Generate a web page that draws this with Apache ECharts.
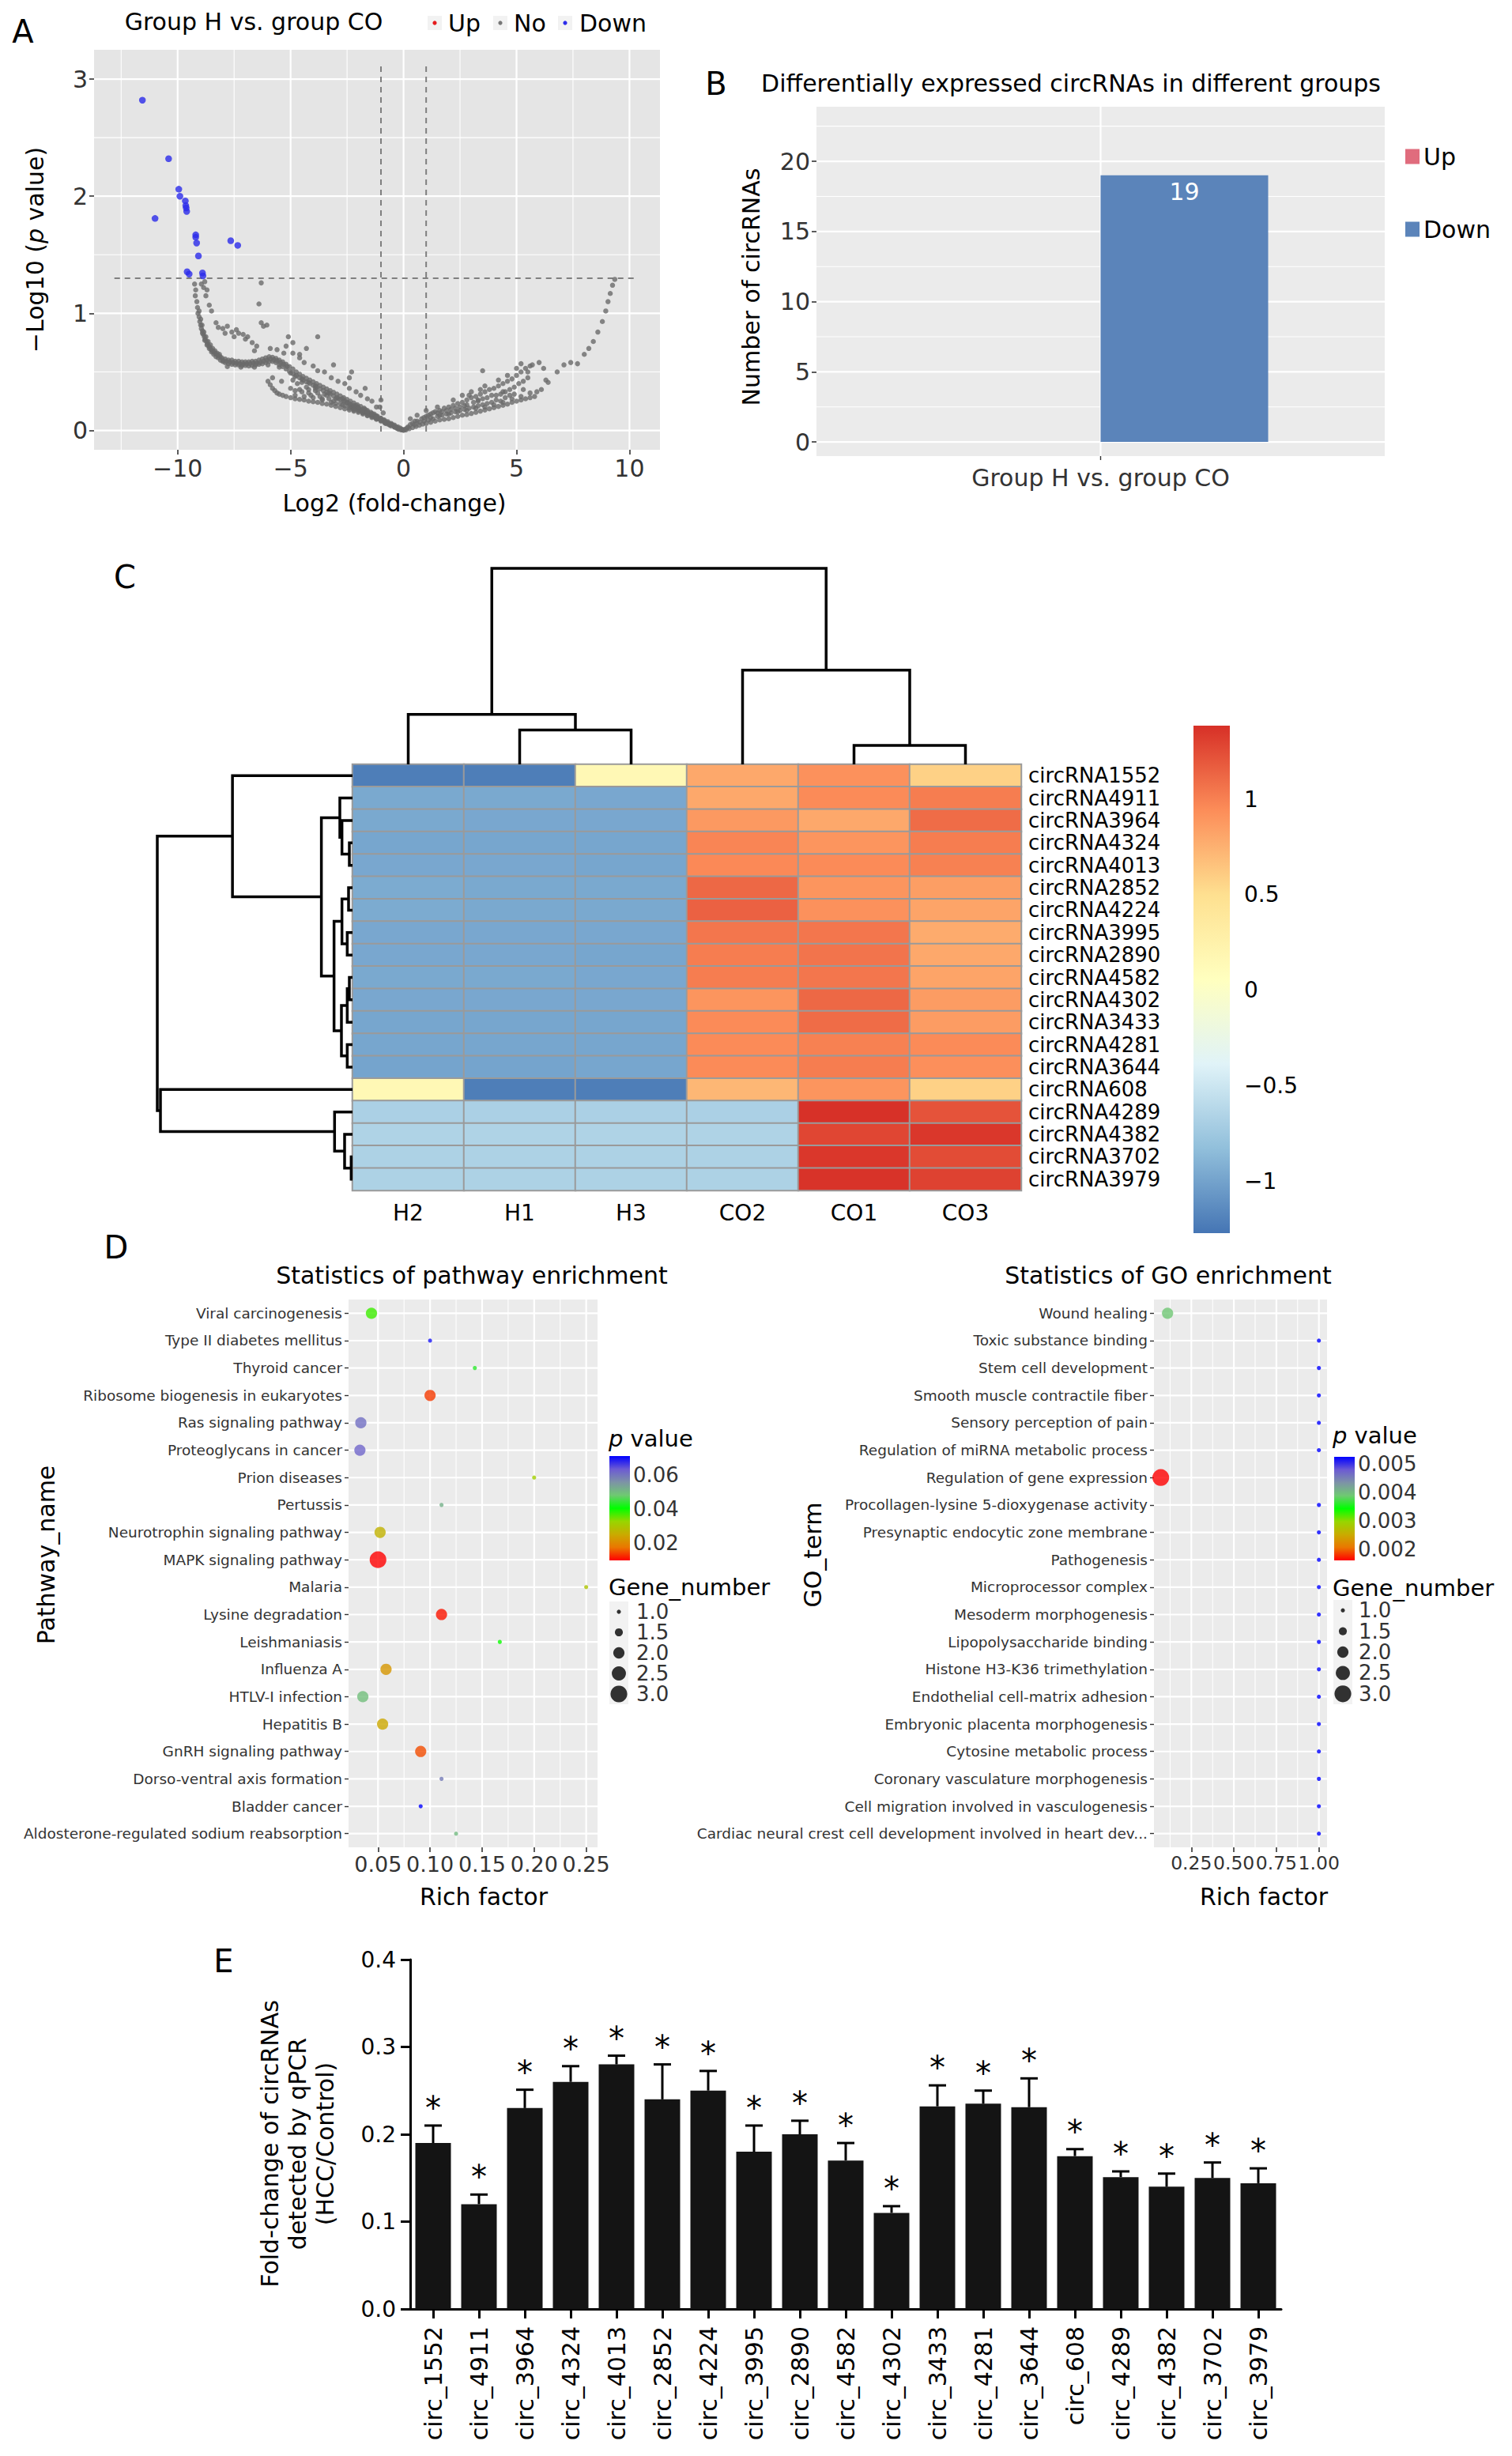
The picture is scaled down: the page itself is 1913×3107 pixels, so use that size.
<!DOCTYPE html>
<html>
<head>
<meta charset="utf-8">
<title>circRNA figure</title>
<script src="https://cdn.jsdelivr.net/npm/echarts@6.0.0/dist/echarts.min.js"></script>
<style>
html,body{margin:0;padding:0;background:#ffffff;}
#chart{width:1913px;height:3107px;}
</style>
</head>
<body>
<div id="chart"></div>
<script>
/* ================= DATA ================= */
// Panel A: volcano plot (log2 fold-change, -log10 p)
const volcanoNo = [
[-9.25,1.25],[-9.2,1.2],[-9.22,1.15],[-9.15,1.1],[-9.12,1.05],[-9.1,1.0],[-9.05,0.97],[-9.02,0.93],[-8.98,0.9],[-8.95,0.87],
[-8.9,0.85],[-8.86,0.82],[-8.82,0.8],[-8.78,0.78],[-8.72,0.76],[-8.68,0.74],[-8.62,0.72],[-8.58,0.71],[-8.52,0.69],[-8.46,0.68],
[-8.4,0.67],[-8.34,0.66],[-8.28,0.65],[-8.2,0.64],[-8.12,0.63],[-8.05,0.62],[-8.9,0.83],[-8.8,0.77],[-8.7,0.73],[-8.6,0.7],
[-8.5,0.67],[-8.4,0.65],[-8.3,0.63],[-8.2,0.62],[-8.1,0.6],[-8.0,0.59],
[-9.05,1.02],[-8.98,0.95],[-8.92,0.9],[-8.84,0.84],[-8.75,0.8],[-8.65,0.76],[-8.55,0.73],[-8.45,0.7],[-8.35,0.68],[-8.25,0.66],[-8.15,0.65],
[-7.9,0.61],[-7.9,0.58],[-7.75,0.6],[-7.75,0.57],[-7.6,0.6],[-7.6,0.565],[-7.45,0.59],[-7.45,0.56],[-7.3,0.59],[-7.3,0.56],
[-7.15,0.585],[-7.15,0.555],[-7.0,0.585],[-7.0,0.555],[-6.85,0.585],[-6.85,0.55],[-6.7,0.59],[-6.7,0.555],[-6.55,0.59],[-6.55,0.56],
[-6.4,0.6],[-6.4,0.565],[-6.25,0.61],[-6.25,0.57],[-6.1,0.62],[-6.1,0.58],[-5.95,0.63],[-5.95,0.59],[-5.8,0.625],[-5.8,0.59],
[-5.65,0.615],[-5.65,0.58],[-5.5,0.6],[-5.5,0.56],[-5.35,0.585],[-5.35,0.545],[-5.2,0.565],[-5.2,0.525],[-5.05,0.545],[-5.05,0.505],
[-8.0,0.6],[-7.85,0.59],[-7.7,0.585],[-7.55,0.58],[-7.4,0.575],[-7.25,0.57],[-7.1,0.57],[-6.95,0.57],[-6.8,0.57],[-6.65,0.575],
[-6.5,0.575],[-6.35,0.58],[-6.2,0.59],[-6.05,0.6],[-5.9,0.61],[-5.75,0.605],[-5.6,0.595],[-5.45,0.58],[-5.3,0.565],[-5.15,0.545],
[-7.8,0.545],[-7.2,0.54],[-6.6,0.54],[-6.0,0.56],[-5.5,0.54],[-5.0,0.49],[-4.8,0.46],[-4.5,0.44],[-4.2,0.41],[-3.9,0.38],
[-4.9,0.525],[-4.9,0.485],[-4.75,0.5],[-4.75,0.47],[-4.6,0.48],[-4.6,0.45],[-4.45,0.46],[-4.45,0.43],[-4.3,0.445],[-4.3,0.415],
[-4.15,0.43],[-4.15,0.4],[-4.0,0.415],[-4.0,0.385],[-3.85,0.4],[-3.85,0.37],[-3.7,0.385],[-3.7,0.355],[-3.55,0.37],[-3.55,0.34],
[-3.4,0.355],[-3.4,0.325],[-3.25,0.34],[-3.25,0.31],[-3.1,0.325],[-3.1,0.295],[-2.95,0.31],[-2.95,0.28],[-2.8,0.295],[-2.8,0.265],
[-2.65,0.28],[-2.65,0.25],[-2.5,0.265],[-2.5,0.235],[-2.35,0.25],[-2.35,0.22],[-2.2,0.235],[-2.2,0.205],[-2.05,0.22],[-2.05,0.19],
[-1.9,0.205],[-1.9,0.175],[-1.75,0.19],[-1.75,0.16],[-1.6,0.17],[-1.6,0.145],[-1.45,0.155],[-1.45,0.13],[-1.3,0.14],[-1.3,0.115],
[-1.15,0.12],[-1.15,0.1],[-1.0,0.105],[-1.0,0.085],[-0.85,0.09],[-0.85,0.07],[-0.7,0.075],[-0.7,0.055],[-0.55,0.06],[-0.55,0.04],
[-0.4,0.045],[-0.4,0.03],[-0.25,0.03],[-0.25,0.015],[-0.1,0.012],[-0.1,0.005],
[-6.0,0.42],[-5.9,0.39],[-5.8,0.36],[-5.7,0.34],[-5.6,0.32],[-5.5,0.31],[-5.35,0.3],[-5.2,0.29],[-5.0,0.28],[-4.8,0.27],
[-4.6,0.265],[-4.4,0.26],[-4.2,0.25],[-4.0,0.245],[-3.8,0.24],[-3.6,0.23],[-3.4,0.225],[-3.2,0.215],[-3.0,0.205],[-2.8,0.195],
[-2.6,0.185],[-2.4,0.175],[-2.2,0.165],[-2.0,0.155],[-1.8,0.14],[-1.6,0.125],[-1.4,0.11],[-1.2,0.095],[-1.0,0.08],[-0.8,0.06],
[-0.6,0.045],[-0.4,0.03],
[-5.0,0.36],[-4.7,0.4],[-4.5,0.33],[-4.3,0.37],[-4.1,0.3],[-3.9,0.34],[-3.7,0.29],[-3.5,0.31],[-3.3,0.27],[-3.1,0.25],
[-2.9,0.27],[-2.7,0.22],[-2.5,0.24],[-2.3,0.2],[-2.1,0.21],[-1.9,0.17],[-1.7,0.18],[-1.5,0.14],[-1.3,0.13],[-1.1,0.1],
[-0.9,0.09],[-0.7,0.065],[-0.5,0.05],[-0.3,0.025],[-2.6,0.21],[-2.2,0.185],[-1.8,0.155],[-1.2,0.11],[-0.6,0.055],[-3.6,0.26],
[-4.2,0.32],[-4.8,0.34],[-5.4,0.42],[-5.8,0.45],[-3.0,0.23],[-2.0,0.19],
[-4.8,0.3],[-4.6,0.35],[-4.4,0.29],[-4.2,0.35],[-4.0,0.28],[-3.8,0.32],[-3.6,0.27],[-3.4,0.3],[-3.2,0.24],[-3.0,0.27],
[-2.8,0.23],[-2.6,0.25],[-4.9,0.43],[-4.5,0.41],[-3.9,0.36],[-3.3,0.32],[-2.7,0.27],
[-2.4,0.19],[-2.4,0.21],[-2.4,0.23],[-2.2,0.175],[-2.2,0.195],[-2.2,0.215],[-2.0,0.165],[-2.0,0.18],[-2.0,0.2],[-1.8,0.15],
[-1.8,0.165],[-1.8,0.18],[-1.6,0.13],[-1.6,0.15],[-1.6,0.16],[-1.4,0.12],[-1.4,0.135],[-1.4,0.145],[-1.2,0.1],[-1.2,0.115],
[-1.2,0.125],[-1.0,0.09],[-1.0,0.095],[-0.8,0.065],[-0.8,0.075],[-0.6,0.05],[-0.4,0.035],[-0.3,0.02],[-0.2,0.01],[-0.15,0.02],
[-5.6,0.69],[-5.2,0.72],[-4.9,0.66],[-4.6,0.62],[-4.4,0.58],[-4.0,0.55],[-3.8,0.51],[-3.5,0.5],[-3.2,0.45],[-2.9,0.42],
[-2.6,0.4],[-2.4,0.36],[-2.3,0.5],[-2.1,0.33],[-1.9,0.3],[-1.6,0.27],[-1.4,0.25],[-1.2,0.2],[-1.05,0.2],[-0.9,0.15],
[-8.6,1.07],[-8.5,1.02],[-8.3,0.92],[-8.2,0.88],[-8.0,0.87],[-7.9,0.83],[-7.8,0.89],[-7.6,0.84],[-7.5,0.8],[-7.4,0.86],
[-7.3,0.83],[-7.1,0.82],[-7.0,0.78],[-6.9,0.8],[-6.7,0.75],[-6.5,0.72],[-6.3,0.92],[-6.2,0.89],[-6.05,0.9],[-6.4,1.08],
[-6.3,1.26],[-8.95,1.25],[-8.85,1.22],[-8.8,1.27],[-8.7,1.2],[-8.75,1.15],[-5.1,0.8],[-4.9,0.75],[-3.8,0.8],[-4.3,0.7],
[-4.6,0.65],[-5.3,0.66],[-5.9,0.7],[-6.6,0.68],[-3.1,0.56],[-2.4,0.45],[-1.7,0.36],[-1.0,0.26],
[-0.05,0.005],[0.0,0.0],[0.05,0.01],[0.15,0.02],
[0.1,0.005],[0.25,0.015],[0.4,0.025],[0.55,0.035],[0.7,0.045],[0.85,0.055],[1.0,0.06],[1.2,0.07],[1.4,0.08],[1.6,0.09],
[1.8,0.095],[2.0,0.1],[2.2,0.11],[2.4,0.12],[2.6,0.13],[2.8,0.135],[3.0,0.145],[3.2,0.155],[3.4,0.165],[3.6,0.175],
[3.8,0.185],[4.0,0.195],[4.2,0.205],[4.4,0.215],[4.6,0.225],[4.8,0.24],[5.0,0.25],[5.2,0.26],[5.4,0.27],[5.6,0.28],[5.8,0.29],
[0.2,0.03],[0.4,0.06],[0.6,0.08],[0.8,0.1],[1.0,0.12],[1.2,0.14],[1.4,0.16],[1.6,0.17],[1.8,0.19],[2.0,0.2],
[2.2,0.215],[2.4,0.23],[2.6,0.24],[2.8,0.26],[3.0,0.28],[3.2,0.29],[3.4,0.31],[3.6,0.33],[3.8,0.35],[4.0,0.36],
[4.2,0.38],[4.4,0.4],[4.6,0.42],[4.8,0.44],[5.0,0.47],[5.2,0.5],[5.4,0.53],[5.6,0.55],
[0.5,0.05],[0.9,0.08],[1.3,0.1],[1.7,0.13],[2.1,0.15],[2.5,0.17],[2.9,0.19],[3.3,0.21],[3.7,0.23],[4.1,0.26],
[4.5,0.28],[4.9,0.31],[5.3,0.35],[1.1,0.09],[1.5,0.12],[1.9,0.14],[2.3,0.16],[2.7,0.18],[3.1,0.2],[3.5,0.22],
[3.9,0.24],[4.3,0.25],[4.7,0.3],[2.8,0.22],[3.3,0.26],[3.9,0.3],[4.4,0.33],[0.3,0.1],[0.6,0.13],[1.0,0.17],
[1.5,0.2],[2.2,0.26],[2.9,0.3],[3.4,0.35],
[0.3,0.05],[0.5,0.08],[0.7,0.07],[0.9,0.11],[1.1,0.13],[1.3,0.15],[1.5,0.15],[1.7,0.16],[1.9,0.17],[2.1,0.18],
[2.3,0.19],[2.5,0.2],[2.7,0.21],[3.1,0.24],[3.3,0.25],[3.5,0.27],[3.7,0.28],[4.1,0.3],[4.3,0.31],[4.5,0.33],
[4.7,0.35],[4.9,0.37],[5.1,0.4],[5.3,0.42],[5.5,0.45],[1.2,0.11],[1.6,0.13],[2.0,0.14],[2.4,0.16],[2.8,0.17],
[3.2,0.19],[3.6,0.2],[4.0,0.22],[4.4,0.24],[4.8,0.27],[5.2,0.29],[5.6,0.32],[2.6,0.3],[3.0,0.33],[3.6,0.38],
[4.2,0.43],[4.6,0.47],[5.0,0.53],[5.5,0.5],
[3.5,0.51],[5.2,0.57],[5.7,0.56],[6.0,0.58],[6.2,0.53],[6.3,0.43],[6.4,0.41],[6.1,0.35],[5.9,0.33],[6.8,0.5],
[7.1,0.56],[7.4,0.58],[7.7,0.57],[8.0,0.65],[8.2,0.7],[8.4,0.76],[8.6,0.84],[8.8,0.93],[8.95,1.02],[9.05,1.1],
[9.15,1.17],[9.25,1.24],[9.35,1.29]
];
const volcanoDown = [
[-11.56,2.82],[-10.4,2.32],[-9.95,2.06],[-9.9,2.0],[-9.66,1.96],[-9.62,1.9],[-9.6,1.87],[-11.0,1.81],[-9.2,1.67],[-9.2,1.65],
[-9.16,1.6],[-9.08,1.49],[-7.65,1.62],[-7.34,1.58],[-9.58,1.355],[-9.49,1.335],[-8.9,1.345],[-8.88,1.32],[-9.64,1.92]
];
const volcanoUp = [];
const volcanoXTicks = [-10, -5, 0, 5, 10];
const volcanoXMinor = [-12.5, -7.5, -2.5, 2.5, 7.5];
const volcanoYTicks = [0, 1, 2, 3];
const volcanoYMinor = [0.5, 1.5, 2.5];
const dashLeft = [[-1, -0.01], [-1, 3.12]];
const dashRight = [[1, -0.01], [1, 3.12]];
const dashP = [[-12.8, 1.3], [10.3, 1.3]];

// Panel B: counts
const barCategories = ['Group H vs. group CO'];
const barUp = [0];
const barDown = [19];
const barYTicks = [0, 5, 10, 15, 20];
const barYMinor = [2.5, 7.5, 12.5, 17.5, 22.5];

// Panel C: heatmap (row-scaled expression)
const heatCols = ['H2', 'H1', 'H3', 'CO2', 'CO1', 'CO3'];
const heatRows = ['circRNA1552','circRNA4911','circRNA3964','circRNA4324','circRNA4013','circRNA2852','circRNA4224',
  'circRNA3995','circRNA2890','circRNA4582','circRNA4302','circRNA3433','circRNA4281','circRNA3644','circRNA608',
  'circRNA4289','circRNA4382','circRNA3702','circRNA3979'];
const heatValues = [
 [-1.22,-1.22, 0.15, 0.80, 0.92, 0.58],
 [-0.96,-0.96,-0.97, 0.80, 0.95, 1.02],
 [-0.96,-0.97,-0.97, 0.88, 0.80, 1.10],
 [-0.98,-0.98,-0.98, 0.98, 0.90, 1.02],
 [-0.97,-0.97,-0.98, 0.96, 0.95, 1.00],
 [-0.95,-0.96,-0.96, 1.12, 0.90, 0.85],
 [-0.95,-0.96,-0.96, 1.15, 0.92, 0.82],
 [-0.97,-0.97,-0.97, 1.05, 1.05, 0.78],
 [-0.97,-0.97,-0.98, 1.02, 1.06, 0.80],
 [-0.96,-0.96,-0.97, 1.02, 1.05, 0.82],
 [-0.97,-0.97,-0.97, 0.90, 1.12, 0.86],
 [-0.98,-0.98,-0.98, 0.95, 1.10, 0.86],
 [-0.98,-0.98,-0.98, 0.95, 1.00, 0.95],
 [-0.99,-0.99,-0.98, 0.95, 1.02, 0.93],
 [ 0.15,-1.22,-1.22, 0.72, 0.90, 0.58],
 [-0.68,-0.68,-0.68,-0.68, 1.38, 1.22],
 [-0.66,-0.66,-0.66,-0.66, 1.28, 1.35],
 [-0.67,-0.67,-0.67,-0.67, 1.35, 1.25],
 [-0.67,-0.67,-0.67,-0.67, 1.37, 1.30]
];
const heatRange = [-1.271, 1.385];
const heatLegendTicks = [-1, -0.5, 0, 0.5, 1];
const heatPalette = ['#4575B4','#91BFDB','#E0F3F8','#FFFFBF','#FEE090','#FC8D59','#D73027'];
// dendrograms: [position1, position2, childHeight1, childHeight2, mergeHeight]
const colLinks = [
 [1.5, 2.5, 0, 0, 4.35],
 [0.5, 2.0, 0, 4.35, 6.3],
 [4.5, 5.5, 0, 0, 2.4],
 [3.5, 5.0, 0, 2.4, 11.9],
 [1.25, 4.25, 6.3, 11.9, 24.75]
];
const colTreeMax = 24.75;
const rowLinks = [
 [3.5, 4.5, 0, 0, 1.2],
 [2.5, 4.0, 0, 1.2, 4.0],
 [1.5, 3.25, 0, 4.0, 4.8],
 [5.5, 6.5, 0, 0, 1.5],
 [7.5, 8.5, 0, 0, 2.0],
 [6.0, 8.0, 1.5, 2.0, 4.0],
 [9.5, 10.5, 0, 0, 1.2],
 [10.0, 11.5, 1.2, 0, 2.0],
 [12.5, 13.5, 0, 0, 2.0],
 [10.75, 13.0, 2.0, 2.0, 4.2],
 [7.0, 11.875, 4.0, 4.2, 7.0],
 [2.375, 9.4375, 4.8, 7.0, 11.8],
 [0.5, 5.906, 0, 11.8, 45.5],
 [17.5, 18.5, 0, 0, 0.5],
 [16.5, 18.0, 0, 0.5, 3.0],
 [15.5, 17.25, 0, 3.0, 6.8],
 [14.5, 16.375, 0, 6.8, 72.8],
 [3.203, 15.4375, 45.5, 72.8, 74.0]
];
const rowTreeMax = 74.0;

// Panel D: enrichment
const pathwayNames = ['Viral carcinogenesis','Type II diabetes mellitus','Thyroid cancer','Ribosome biogenesis in eukaryotes',
 'Ras signaling pathway','Proteoglycans in cancer','Prion diseases','Pertussis','Neurotrophin signaling pathway',
 'MAPK signaling pathway','Malaria','Lysine degradation','Leishmaniasis','Influenza A','HTLV-I infection','Hepatitis B',
 'GnRH signaling pathway','Dorso-ventral axis formation','Bladder cancer','Aldosterone-regulated sodium reabsorption'];
const pathwayRich = [0.0437,0.1,0.143,0.1,0.0335,0.0326,0.2,0.111,0.052,0.05,0.25,0.111,0.167,0.0577,0.0354,0.0544,0.091,0.111,0.091,0.125];
const pathwayP = [0.0374,0.0695,0.0436,0.0134,0.0608,0.062,0.0313,0.0516,0.0263,0.0097,0.0294,0.011,0.04,0.022,0.0497,0.0245,0.0146,0.059,0.0713,0.0504];
const pathwayGenes = [2,1,1,2,2,2,1,1,2,3,1,2,1,2,2,2,2,1,1,1];
const pathwayXTicks = [0.05, 0.10, 0.15, 0.20, 0.25];
const pathwayXMinor = [0.075, 0.125, 0.175, 0.225];
const pathwayPRange = [0.0097, 0.0713];
const pathwayPTicks = [0.02, 0.04, 0.06];

const goTerms = ['Wound healing','Toxic substance binding','Stem cell development','Smooth muscle contractile fiber',
 'Sensory perception of pain','Regulation of miRNA metabolic process','Regulation of gene expression',
 'Procollagen-lysine 5-dioxygenase activity','Presynaptic endocytic zone membrane','Pathogenesis','Microprocessor complex',
 'Mesoderm morphogenesis','Lipopolysaccharide binding','Histone H3-K36 trimethylation','Endothelial cell-matrix adhesion',
 'Embryonic placenta morphogenesis','Cytosine metabolic process','Coronary vasculature morphogenesis',
 'Cell migration involved in vasculogenesis','Cardiac neural crest cell development involved in heart dev...'];
const goRich = [0.11,1,1,1,1,1,0.07,1,1,1,1,1,1,1,1,1,1,1,1,1];
const goP = [0.0039,0.00525,0.00525,0.00525,0.00525,0.00525,0.00161,0.00525,0.00525,0.00525,0.00525,0.00525,0.00525,0.00525,0.00525,0.00525,0.00525,0.00525,0.00525,0.00525];
const goGenes = [2,1,1,1,1,1,3,1,1,1,1,1,1,1,1,1,1,1,1,1];
const goXTicks = [0.25, 0.50, 0.75, 1.00];
const goXMinor = [0.125, 0.375, 0.625, 0.875];
const goPRange = [0.00161, 0.00525];
const goPTicks = [0.002, 0.003, 0.004, 0.005];
const pPalette = ['#FF0000','#EA7700','#C9AB00','#97D600','#00FF00','#6FC972','#7D93A6','#6C5BD3','#0000FF'];
const geneLegend = [1.0, 1.5, 2.0, 2.5, 3.0];

// Panel E: qPCR fold change
const qpcrLabels = ['circ_1552','circ_4911','circ_3964','circ_4324','circ_4013','circ_2852','circ_4224','circ_3995',
 'circ_2890','circ_4582','circ_4302','circ_3433','circ_4281','circ_3644','circ_608','circ_4289','circ_4382','circ_3702','circ_3979'];
const qpcrMean = [0.19,0.12,0.23,0.26,0.28,0.24,0.25,0.18,0.20,0.17,0.11,0.232,0.235,0.231,0.175,0.151,0.14,0.15,0.144];
const qpcrErr = [0.02,0.011,0.021,0.018,0.01,0.04,0.0225,0.03,0.0155,0.02,0.0077,0.024,0.015,0.033,0.008,0.0065,0.015,0.0177,0.017];

/* ================= LAYOUT / STYLE ================= */
const FONT = '"DejaVu Sans", "Liberation Sans", Arial, sans-serif';
const TICK = '#333333';
const PANEL = '#EBEBEB';
const minusFmt = v => (v < 0 ? '\u2212' : '') + String(Math.abs(v));

const grids = [
 {left:119, top:63, width:716, height:506, bg:'#E5E5E5'},   // 0 volcano
 {left:1033, top:135, width:719, height:442, bg:PANEL},     // 1 bars
 {left:446, top:967, width:846, height:539},                // 2 heatmap
 {left:446, top:719, width:846, height:248},                // 3 column tree
 {left:199, top:967, width:247, height:539},                // 4 row tree
 {left:1510, top:918, width:46, height:642},                // 5 heat colorbar
 {left:441, top:1644, width:315, height:693, bg:PANEL},     // 6 pathway
 {left:771, top:1842, width:26, height:132},                // 7 pathway colorbar
 {left:771, top:2026, width:24, height:130, bg:'#F2F2F2'},  // 8 pathway size legend
 {left:1460, top:1644, width:219, height:693, bg:PANEL},    // 9 GO
 {left:1688, top:1843, width:26, height:131},               // 10 GO colorbar
 {left:1687, top:2024, width:24, height:132, bg:'#F2F2F2'}, // 11 GO size legend
 {left:519, top:2479, width:1102, height:442}               // 12 qPCR
];
const gridOpt = grids.map(g => ({left:g.left, top:g.top, width:g.width, height:g.height,
  show: !!g.bg, backgroundColor: g.bg || 'transparent', borderWidth:0, containLabel:false, outerBoundsMode:'none'}));

function hiddenAxis(gi, type, min, max, extra) {
  return Object.assign({gridIndex:gi, type:type, min:min, max:max, show:false,
    axisLine:{show:false, onZero:false}, splitLine:{show:false}, axisTick:{show:false}, axisLabel:{show:false}}, extra || {});
}
function ggValueAxis(gi, min, max, ticks, fmt, size, extra) {
  return Object.assign({gridIndex:gi, type:'value', min:min, max:max,
    axisLine:{show:false, onZero:false}, splitLine:{show:false},
    axisTick:{show:true, length:6, lineStyle:{color:TICK, width:1.6}, customValues:ticks},
    axisLabel:{show:true, customValues:ticks, formatter:fmt, fontSize:size, color:TICK, margin:8, fontFamily:FONT,
      hideOverlap:false, showMinLabel:true, showMaxLabel:true}}, extra || {});
}
function ggCatAxis(gi, data, size, extra) {
  return Object.assign({gridIndex:gi, type:'category', data:data,
    axisLine:{show:false, onZero:false}, splitLine:{show:false},
    axisTick:{show:true, alignWithLabel:true, length:5, lineStyle:{color:TICK, width:1.4}},
    axisLabel:{show:true, interval:0, fontSize:size, color:TICK, margin:8, fontFamily:FONT}}, extra || {});
}

const xAxes = [], yAxes = [];
// A
xAxes[0] = ggValueAxis(0, -13.7, 11.35, volcanoXTicks, minusFmt, 30);
yAxes[0] = ggValueAxis(0, -0.165, 3.25, volcanoYTicks, v => String(v), 30);
// B
xAxes[1] = ggCatAxis(1, barCategories, 30, {axisLabel:{show:true, interval:0, fontSize:30, color:TICK, margin:12, fontFamily:FONT}});
yAxes[1] = ggValueAxis(1, -1.01, 23.89, barYTicks, v => String(v), 30);
// C heatmap
xAxes[2] = {gridIndex:2, type:'category', data:heatCols, position:'bottom', axisLine:{show:false, onZero:false},
  axisTick:{show:false}, splitLine:{show:false}, axisLabel:{interval:0, fontSize:28, color:'#000', margin:14, fontFamily:FONT}};
yAxes[2] = {gridIndex:2, type:'category', data:heatRows, inverse:true, position:'right', axisLine:{show:false, onZero:false},
  axisTick:{show:false}, splitLine:{show:false}, axisLabel:{interval:0, fontSize:26, color:'#000', margin:9, fontFamily:FONT}};
xAxes[3] = hiddenAxis(3, 'value', 0, 6);
yAxes[3] = hiddenAxis(3, 'value', 0, colTreeMax);
xAxes[4] = hiddenAxis(4, 'value', 0, rowTreeMax, {inverse:true});
yAxes[4] = hiddenAxis(4, 'value', 0, 19, {inverse:true});
xAxes[5] = hiddenAxis(5, 'value', 0, 1);
yAxes[5] = {gridIndex:5, type:'value', min:heatRange[0], max:heatRange[1], position:'right',
  axisLine:{show:false, onZero:false}, splitLine:{show:false}, axisTick:{show:false},
  axisLabel:{customValues:heatLegendTicks, formatter:minusFmt, fontSize:28, color:'#000', margin:18, fontFamily:FONT, hideOverlap:false}};
// D pathway
xAxes[6] = ggValueAxis(6, 0.0217, 0.2609, pathwayXTicks, v => v.toFixed(2), 27);
yAxes[6] = ggCatAxis(6, pathwayNames, 18.5, {inverse:true});
xAxes[7] = hiddenAxis(7, 'value', 0, 1);
yAxes[7] = {gridIndex:7, type:'value', min:pathwayPRange[0], max:pathwayPRange[1], position:'right',
  axisLine:{show:false, onZero:false}, splitLine:{show:false},
  axisTick:{show:true, inside:true, length:5, customValues:pathwayPTicks, lineStyle:{color:'#fff', width:1.5}},
  axisLabel:{customValues:pathwayPTicks, formatter:v => v.toFixed(2), fontSize:26, color:TICK, margin:4, fontFamily:FONT, hideOverlap:false}};
xAxes[8] = hiddenAxis(8, 'value', 0, 1);
yAxes[8] = {gridIndex:8, type:'category', data:geneLegend.map(g => g.toFixed(1)), inverse:true, position:'right',
  axisLine:{show:false, onZero:false}, splitLine:{show:false}, axisTick:{show:false},
  axisLabel:{interval:0, fontSize:26, color:TICK, margin:10, fontFamily:FONT}};
// D GO
xAxes[9] = ggValueAxis(9, 0.03, 1.048, goXTicks, v => v.toFixed(2), 23.5);
yAxes[9] = ggCatAxis(9, goTerms, 18.5, {inverse:true});
xAxes[10] = hiddenAxis(10, 'value', 0, 1);
yAxes[10] = {gridIndex:10, type:'value', min:goPRange[0], max:goPRange[1], position:'right',
  axisLine:{show:false, onZero:false}, splitLine:{show:false},
  axisTick:{show:true, inside:true, length:5, customValues:goPTicks, lineStyle:{color:'#fff', width:1.5}},
  axisLabel:{customValues:goPTicks, formatter:v => v.toFixed(3), fontSize:26, color:TICK, margin:4, fontFamily:FONT, hideOverlap:false}};
xAxes[11] = hiddenAxis(11, 'value', 0, 1);
yAxes[11] = {gridIndex:11, type:'category', data:geneLegend.map(g => g.toFixed(1)), inverse:true, position:'right',
  axisLine:{show:false, onZero:false}, splitLine:{show:false}, axisTick:{show:false},
  axisLabel:{interval:0, fontSize:26, color:TICK, margin:8, fontFamily:FONT}};
// E
xAxes[12] = {gridIndex:12, type:'category', data:qpcrLabels,
  axisLine:{show:true, onZero:false, lineStyle:{color:'#000', width:3}},
  axisTick:{show:true, alignWithLabel:true, length:12, lineStyle:{color:'#000', width:3}},
  axisLabel:{rotate:90, interval:0, fontSize:30, color:'#000', margin:22, fontFamily:FONT}, splitLine:{show:false}};
yAxes[12] = {gridIndex:12, type:'value', min:0, max:0.4, interval:0.1,
  axisLine:{show:true, onZero:false, lineStyle:{color:'#000', width:3}},
  axisTick:{show:true, length:12, lineStyle:{color:'#000', width:3}},
  axisLabel:{fontSize:28, color:'#000', margin:18, formatter:v => v.toFixed(1), fontFamily:FONT}, splitLine:{show:false}};

/* ================= SERIES ================= */
const series = [];
function add(s) { series.push(s); return series.length - 1; }

function vLines(gi, xs, yRef, w) {
  return {type:'custom', xAxisIndex:gi, yAxisIndex:gi, silent:true, z:1,
    data: xs.map(x => [x, yRef]),
    renderItem: (params, api) => {
      const cs = params.coordSys; const p = api.coord([api.value(0), api.value(1)]);
      return {type:'line', shape:{x1:p[0], y1:cs.y, x2:p[0], y2:cs.y + cs.height}, style:{stroke:'#ffffff', lineWidth:w}};
    }};
}
function hLines(gi, ys, xRef, w) {
  return {type:'custom', xAxisIndex:gi, yAxisIndex:gi, silent:true, z:1,
    data: ys.map(y => [xRef, y]),
    renderItem: (params, api) => {
      const cs = params.coordSys; const p = api.coord([api.value(0), api.value(1)]);
      return {type:'line', shape:{x1:cs.x, y1:p[1], x2:cs.x + cs.width, y2:p[1]}, style:{stroke:'#ffffff', lineWidth:w}};
    }};
}
function colorbar(gi, range, palette) {
  const stops = palette.map((c, i) => ({offset: i / (palette.length - 1), color: c}));
  return {type:'custom', xAxisIndex:gi, yAxisIndex:gi, silent:true, z:1,
    dimensions:['x','lo','hi'], encode:{x:0, y:[1,2]},
    data:[[0, range[0], range[1]]],
    renderItem: (params, api) => {
      const cs = params.coordSys;
      const lo = api.coord([0, api.value(1)]); const hi = api.coord([0, api.value(2)]);
      return {type:'rect', shape:{x:cs.x, y:hi[1], width:cs.width, height:lo[1] - hi[1]},
        style:{fill: new echarts.graphic.LinearGradient(0, 1, 0, 0, stops)}};
    }};
}
function geneSize(g) { const s = 1 + 5 * (Math.sqrt(g) - 1) / (Math.sqrt(3) - 1); return 3.2 * s + 2; }

// ---- A ----
add(vLines(0, volcanoXTicks, 1, 2.2));
add(vLines(0, volcanoXMinor, 1, 1.1));
add(hLines(0, volcanoYTicks, 0, 2.2));
add(hLines(0, volcanoYMinor, 0, 1.1));
add({type:'scatter', name:'volcano-No', xAxisIndex:0, yAxisIndex:0, data:volcanoNo, symbolSize:6.5,
  itemStyle:{color:'#6a6a6a'}, z:3, silent:true});
add({type:'scatter', name:'volcano-Up', xAxisIndex:0, yAxisIndex:0, data:volcanoUp, symbolSize:8,
  itemStyle:{color:'#E41A1C'}, z:4, silent:true});
add({type:'scatter', name:'volcano-Down', xAxisIndex:0, yAxisIndex:0, data:volcanoDown, symbolSize:8.5,
  itemStyle:{color:'#2B2BEA'}, z:4, silent:true});
[dashLeft, dashRight, dashP].forEach(d => add({type:'line', xAxisIndex:0, yAxisIndex:0, data:d, symbol:'none', silent:true, z:2,
  lineStyle:{color:'#7f7f7f', width:2, type:[7,6]}}));

// ---- B ----
add(vLines(1, [0], 0, 2.2));
add(hLines(1, barYTicks, 0, 2.2));
add(hLines(1, barYMinor, 0, 1.1));
add({type:'bar', name:'Up', xAxisIndex:1, yAxisIndex:1, data:barUp, barWidth:212, barGap:'0%', z:3,
  itemStyle:{color:'#E06C7D'}, silent:true});
add({type:'bar', name:'Down', xAxisIndex:1, yAxisIndex:1, data:barDown, barWidth:212, barGap:'0%', z:3,
  itemStyle:{color:'#5B84BA'}, silent:true,
  label:{show:true, position:'insideTop', distance:6, color:'#ffffff', fontSize:30, fontFamily:FONT}});

// ---- C ----
const heatData = [];
heatRows.forEach((r, ri) => heatCols.forEach((c, ci) => heatData.push([ci, ri, heatValues[ri][ci]])));
const idxHeat = add({type:'heatmap', xAxisIndex:2, yAxisIndex:2, data:heatData, silent:true,
  itemStyle:{borderColor:'#9a9a9a', borderWidth:2}, emphasis:{disabled:true}});
add({type:'custom', xAxisIndex:3, yAxisIndex:3, silent:true, z:2,
  dimensions:['p1','p2','h1','h2','h'], encode:{x:[0,1], y:[2,3,4]}, data:colLinks,
  renderItem: (params, api) => {
    const p1 = api.value(0), p2 = api.value(1), h1 = api.value(2), h2 = api.value(3), h = api.value(4);
    return {type:'polyline', shape:{points:[api.coord([p1,h1]), api.coord([p1,h]), api.coord([p2,h]), api.coord([p2,h2])]},
      style:{stroke:'#000', lineWidth:3.5, fill:null}};
  }});
add({type:'custom', xAxisIndex:4, yAxisIndex:4, silent:true, z:2,
  dimensions:['p1','p2','h1','h2','h'], encode:{y:[0,1], x:[2,3,4]}, data:rowLinks,
  renderItem: (params, api) => {
    const p1 = api.value(0), p2 = api.value(1), h1 = api.value(2), h2 = api.value(3), h = api.value(4);
    return {type:'polyline', shape:{points:[api.coord([h1,p1]), api.coord([h,p1]), api.coord([h,p2]), api.coord([h2,p2])]},
      style:{stroke:'#000', lineWidth:3.5, fill:null}};
  }});
add(colorbar(5, heatRange, heatPalette));

// ---- D pathway ----
add(vLines(6, pathwayXTicks, 0, 2.2));
add(vLines(6, pathwayXMinor, 0, 1.1));
add(hLines(6, pathwayNames.map((n, i) => i), 0.1, 2.2));
const idxPath = add({type:'scatter', xAxisIndex:6, yAxisIndex:6, z:3, silent:true,
  data: pathwayNames.map((n, i) => [pathwayRich[i], i, pathwayP[i], pathwayGenes[i]]),
  symbolSize: v => geneSize(v[3])});
add(colorbar(7, pathwayPRange, pPalette));
add({type:'scatter', xAxisIndex:8, yAxisIndex:8, z:3, silent:true,
  data: geneLegend.map((g, i) => [0.5, i, g]), symbolSize: v => geneSize(v[2]), itemStyle:{color:'#000'}});

// ---- D GO ----
add(vLines(9, goXTicks, 0, 2.2));
add(vLines(9, goXMinor, 0, 1.1));
add(hLines(9, goTerms.map((n, i) => i), 0.5, 2.2));
const idxGo = add({type:'scatter', xAxisIndex:9, yAxisIndex:9, z:3, silent:true,
  data: goTerms.map((n, i) => [goRich[i], i, goP[i], goGenes[i]]),
  symbolSize: v => geneSize(v[3])});
add(colorbar(10, goPRange, pPalette));
add({type:'scatter', xAxisIndex:11, yAxisIndex:11, z:3, silent:true,
  data: geneLegend.map((g, i) => [0.5, i, g]), symbolSize: v => geneSize(v[2]), itemStyle:{color:'#000'}});

// ---- E ----
add({type:'bar', xAxisIndex:12, yAxisIndex:12, data:qpcrMean, barWidth:45, z:2, silent:true, itemStyle:{color:'#141414'}});
add({type:'custom', xAxisIndex:12, yAxisIndex:12, z:3, silent:true,
  dimensions:['i','m','t'], encode:{x:0, y:[1,2]},
  data: qpcrMean.map((m, i) => [i, m, m + qpcrErr[i]]),
  renderItem: (params, api) => {
    const a = api.coord([api.value(0), api.value(1)]); const b = api.coord([api.value(0), api.value(2)]);
    return {type:'group', children:[
      {type:'line', shape:{x1:a[0], y1:a[1], x2:b[0], y2:b[1]}, style:{stroke:'#000', lineWidth:3}},
      {type:'line', shape:{x1:b[0] - 11, y1:b[1], x2:b[0] + 11, y2:b[1]}, style:{stroke:'#000', lineWidth:3}}]};
  }});
add({type:'custom', xAxisIndex:12, yAxisIndex:12, z:3, silent:true,
  data: qpcrMean.map((m, i) => [i, m + qpcrErr[i]]),
  renderItem: (params, api) => {
    const p = api.coord([api.value(0), api.value(1)]);
    return {type:'text', x:p[0], y:p[1] - 22, style:{text:'*', fontSize:40, fontFamily:FONT, fill:'#000',
      align:'center', verticalAlign:'middle', textAlign:'center', textVerticalAlign:'middle'}};
  }});

/* ================= TEXT / LEGEND GRAPHICS ================= */
function txt(text, x, y, size, o) {
  o = o || {};
  const al = o.align || 'center', va = o.va || 'middle';
  const st = {text:text, fontSize:size, fontFamily:FONT, fill:o.color || '#000', align:al, verticalAlign:va,
    textAlign:al, textVerticalAlign:va};
  if (o.rich) st.rich = o.rich;
  if (o.lh) st.lineHeight = o.lh;
  return {type:'text', x:x, y:y, rotation:o.rot || 0, silent:true, z:50, style:st};
}
const italic = size => ({i:{fontStyle:'italic', fontSize:size, fontFamily:FONT, fill:'#000'}});
const graphics = [
  txt('A', 29, 40, 40), txt('B', 906, 106, 40), txt('C', 158, 730, 40), txt('D', 147, 1578, 40), txt('E', 283, 2481, 40),
  // A
  txt('Group H vs. group CO', 321, 27, 30),
  txt('Log2 (fold-change)', 499, 636, 30),
  txt('\u2212Log10 ({i|p} value)', 44, 316, 30, {rot:Math.PI / 2, rich:italic(30)}),
  {type:'rect', shape:{x:541, y:20, width:18, height:18}, style:{fill:'#F2F2F2'}, silent:true, z:40},
  {type:'circle', shape:{cx:550, cy:29, r:2.6}, style:{fill:'#E41A1C'}, silent:true, z:41},
  txt('Up', 567, 29, 30, {align:'left'}),
  {type:'rect', shape:{x:624, y:20, width:18, height:18}, style:{fill:'#F2F2F2'}, silent:true, z:40},
  {type:'circle', shape:{cx:633, cy:29, r:2.6}, style:{fill:'#777777'}, silent:true, z:41},
  txt('No', 650, 29, 30, {align:'left'}),
  {type:'rect', shape:{x:706, y:20, width:18, height:18}, style:{fill:'#F2F2F2'}, silent:true, z:40},
  {type:'circle', shape:{cx:715, cy:29, r:2.6}, style:{fill:'#2B2BEA'}, silent:true, z:41},
  txt('Down', 733, 29, 30, {align:'left'}),
  // B
  txt('Differentially expressed circRNAs in different groups', 1355, 105, 30),
  txt('Number of circRNAs', 950, 363, 30, {rot:Math.PI / 2}),
  // D
  txt('Statistics of pathway enrichment', 597, 1613, 30),
  txt('Statistics of GO enrichment', 1478, 1613, 30),
  txt('Pathway_name', 58, 1967, 30, {rot:Math.PI / 2}),
  txt('GO_term', 1028, 1967, 30, {rot:Math.PI / 2}),
  txt('Rich factor', 612, 2399, 30),
  txt('Rich factor', 1599, 2399, 30),
  txt('{i|p} value', 770, 1820, 29, {align:'left', rich:italic(29)}),
  txt('Gene_number', 770, 2008, 29, {align:'left'}),
  txt('{i|p} value', 1686, 1816, 29, {align:'left', rich:italic(29)}),
  txt('Gene_number', 1686, 2009, 29, {align:'left'}),
  // E
  txt('Fold-change of circRNAs\ndetected by qPCR\n(HCC/Control)', 376, 2712, 30, {rot:Math.PI / 2, lh:35})
];

/* ================= OPTION ================= */
const option = {
  animation:false,
  backgroundColor:'#ffffff',
  textStyle:{fontFamily:FONT},
  grid:gridOpt,
  xAxis:xAxes,
  yAxis:yAxes,
  legend:{data:['Up','Down'], orient:'vertical', left:1773, top:178, icon:'rect', itemWidth:18, itemHeight:19, itemGap:62,
    selectedMode:false, textStyle:{fontSize:30, color:'#000', fontFamily:FONT, lineHeight:30}},
  visualMap:[
    {type:'continuous', show:false, seriesIndex:idxHeat, dimension:2, min:heatRange[0], max:heatRange[1], inRange:{color:heatPalette}},
    {type:'continuous', show:false, seriesIndex:idxPath, dimension:2, min:pathwayPRange[0], max:pathwayPRange[1], inRange:{color:pPalette}},
    {type:'continuous', show:false, seriesIndex:idxGo, dimension:2, min:goPRange[0], max:goPRange[1], inRange:{color:pPalette}}
  ],
  graphic:{elements:graphics},
  series:series
};
const chart = echarts.init(document.getElementById('chart'), null, {renderer:'svg', width:1913, height:3107});
chart.setOption(option);
</script>
</body>
</html>
